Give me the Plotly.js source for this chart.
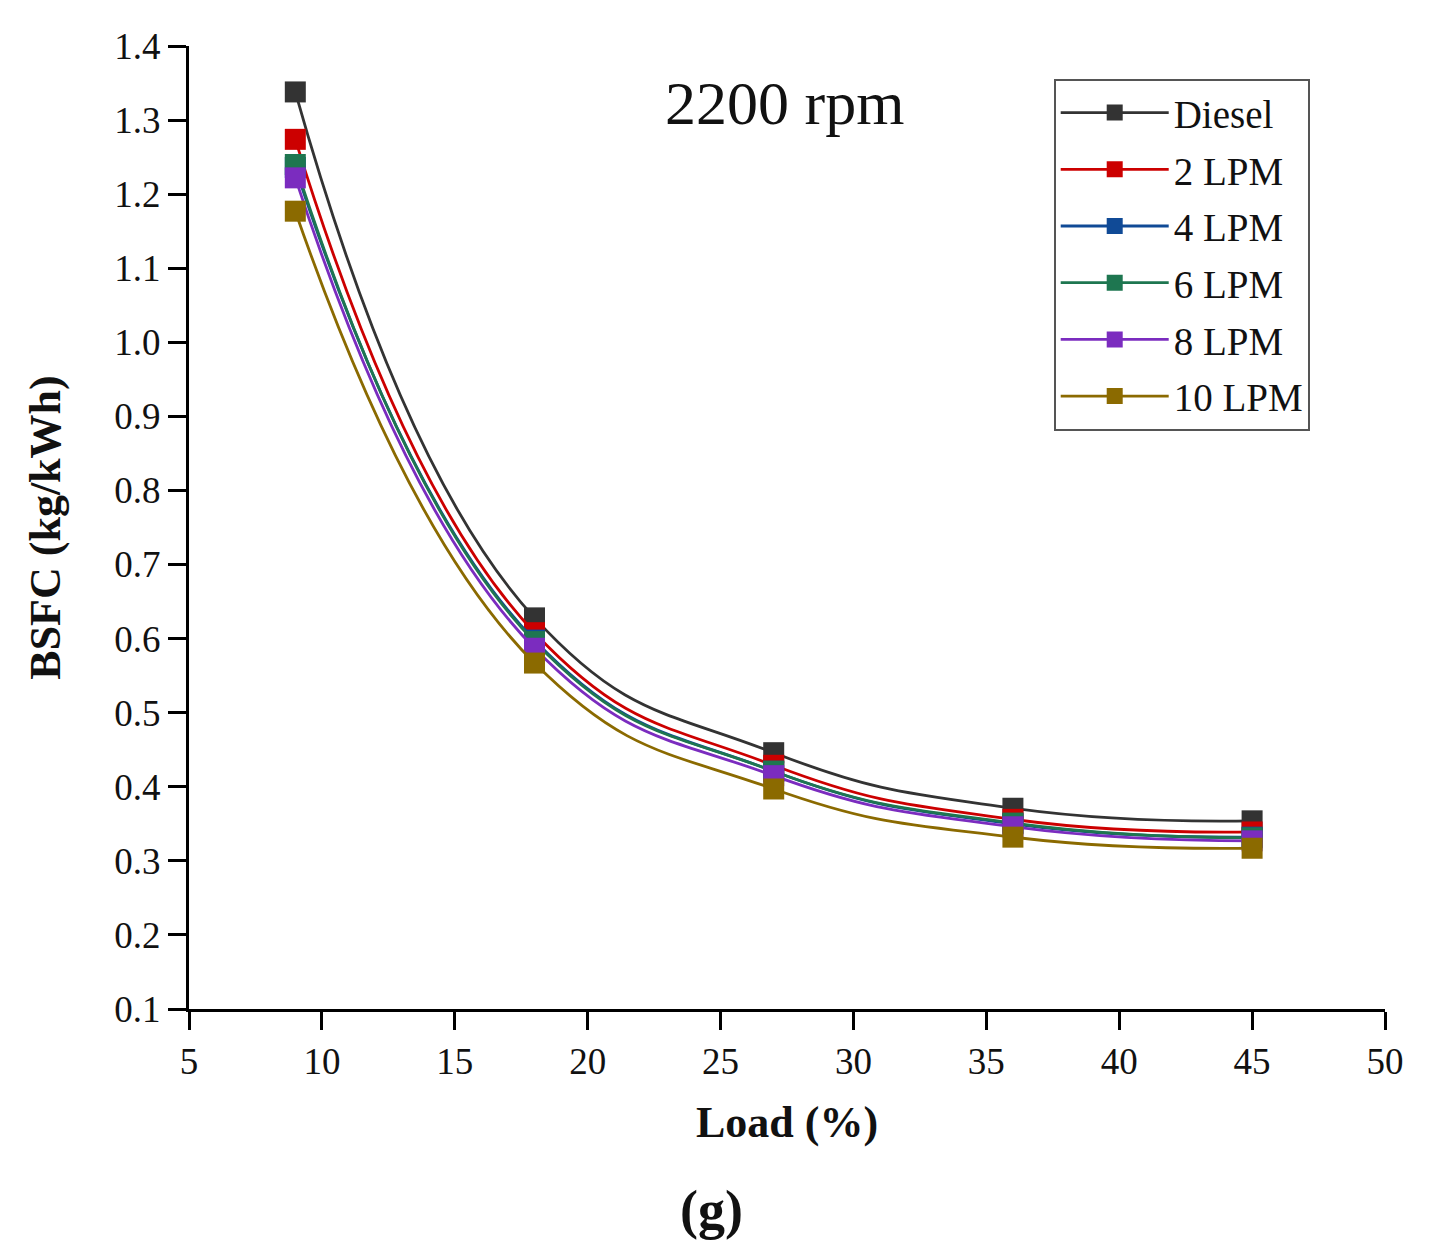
<!DOCTYPE html>
<html>
<head>
<meta charset="utf-8">
<script src="https://cdn.plot.ly/plotly-3.0.1.min.js"></script>
<style>
  html, body { margin: 0; padding: 0; background: #fff; }
  #chart { width: 1432px; height: 1247px; }
</style>
</head>
<body>
<div id="chart"></div>
<script>
// BSFC vs load at 2200 rpm, diesel and hydrogen flow rates
const load = [9, 18, 27, 36, 45];
const diesel = [1.338, 0.628, 0.446, 0.371, 0.354];
const lpm2 = [1.274, 0.608, 0.429, 0.356, 0.339];
const lpm4 = [1.236, 0.598, 0.421, 0.350, 0.332];
const lpm6 = [1.240, 0.596, 0.421, 0.351, 0.331];
const lpm8 = [1.222, 0.587, 0.415, 0.346, 0.327];
const lpm10 = [1.177, 0.567, 0.397, 0.332, 0.317];

const seriesNames = ['Diesel', '2 LPM', '4 LPM', '6 LPM', '8 LPM', '10 LPM'];
const seriesValues = [diesel, lpm2, lpm4, lpm6, lpm8, lpm10];
const seriesColors = ['#333333', '#cc0000', '#104a96', '#1e7650', '#7b2cbf', '#8b6a00'];

const xTicks = [5, 10, 15, 20, 25, 30, 35, 40, 45, 50];
const yTicks = [0.1, 0.2, 0.3, 0.4, 0.5, 0.6, 0.7, 0.8, 0.9, 1.0, 1.1, 1.2, 1.3, 1.4];

const SERIF = '"Liberation Serif", "Times New Roman", serif';

const traces = seriesNames.map((name, i) => ({
  type: 'scatter', mode: 'lines+markers',
  name: name, x: load, y: seriesValues[i],
  legendgroup: 'g' + i,
  line: { color: seriesColors[i], width: 2.8, shape: 'spline', smoothing: 1.3 },
  marker: { symbol: 'square', size: 21, color: seriesColors[i] }
}));

const layout = {
  width: 1432, height: 1247,
  paper_bgcolor: '#fff', plot_bgcolor: '#fff',
  font: { family: SERIF, color: '#111', size: 37 },
  margin: { l: 189, r: 47, t: 46, b: 238 },
  showlegend: true,
  legend: {
    x: 0.723, y: 0.966, xanchor: 'left', yanchor: 'top',
    bgcolor: '#fff', bordercolor: '#555', borderwidth: 2,
    font: { family: SERIF, size: 39, color: '#111' },
    itemwidth: 108, tracegroupgap: 3,
    itemclick: false
  },
  xaxis: {
    range: [5, 50], tickvals: xTicks, ticktext: xTicks.map(String),
    showgrid: false, zeroline: false,
    showline: true, linecolor: '#000', linewidth: 3,
    ticks: 'outside', ticklen: 18, tickwidth: 3, tickcolor: '#000',
    tickfont: { family: SERIF, size: 37, color: '#111' },
    title: { text: '<b>Load (%)</b>', font: { family: SERIF, size: 44, color: '#111' }, standoff: 25 }
  },
  yaxis: {
    range: [0.1, 1.4], tickvals: yTicks, ticktext: yTicks.map(v => v.toFixed(1)),
    showgrid: false, zeroline: false,
    showline: true, linecolor: '#000', linewidth: 3,
    ticks: 'outside', ticklen: 18, tickwidth: 3, tickcolor: '#000',
    tickfont: { family: SERIF, size: 37, color: '#111' },
    title: { text: '<b>BSFC (kg/kWh)</b>', font: { family: SERIF, size: 44, color: '#111' }, standoff: 40 }
  },
  annotations: [
    {
      xref: 'paper', yref: 'paper', x: 0.498, y: 0.941,
      xanchor: 'center', yanchor: 'middle', showarrow: false,
      text: '2200 rpm', font: { family: SERIF, size: 62, color: '#111' }
    },
    {
      xref: 'paper', yref: 'paper', x: 0.4365, y: -0.2087,
      xanchor: 'center', yanchor: 'middle', showarrow: false,
      text: '<b>(g)</b>', font: { family: SERIF, size: 54, color: '#111' }
    }
  ]
};

Plotly.newPlot('chart', traces, layout, { displayModeBar: false, staticPlot: true });
</script>
</body>
</html>
